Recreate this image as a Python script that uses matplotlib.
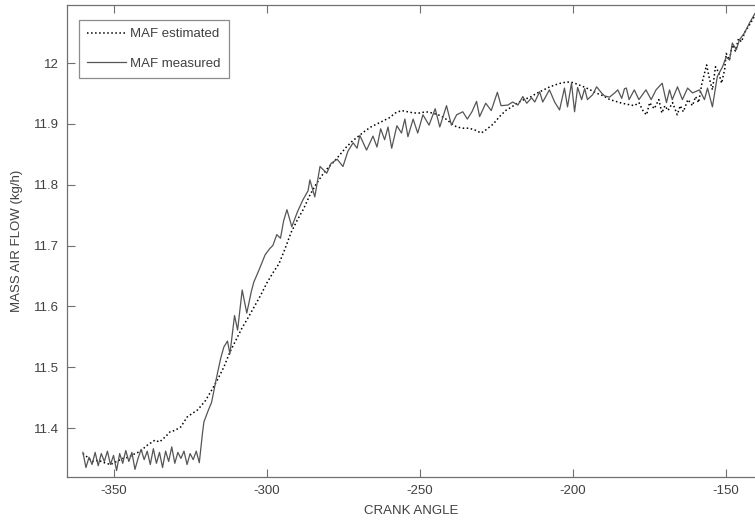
import matplotlib
matplotlib.use("Agg")
import matplotlib.pyplot as plt

plt.rcParams['font.family'] = ['Liberation Sans', 'DejaVu Sans']
plt.rcParams['axes.unicode_minus'] = False

# MAF measured (crank angle, kg/h)
meas_angle = [
    -360, -359, -358, -357, -356, -355, -354, -353, -352, -351,
    -350, -349, -348, -347, -346, -345, -344, -343, -342, -341,
    -340, -339, -338, -337, -336, -335, -334, -333, -332, -331,
    -330, -329, -328, -327, -326, -325, -324, -323, -322, -321,
    -320.5, -319, -318, -316.5, -315, -314, -312.8, -312, -310.5, -309.5,
    -308, -306.5, -305, -304.2, -302.5, -300.5, -299, -298, -296.7, -295.5,
    -294.5, -293.4, -291.8, -290, -288.2, -286.5, -285.9, -284.3, -282.6, -280.4,
    -279, -277, -275.1, -273.5, -271.8, -270.5, -269.6, -267.4, -265.3, -264,
    -262.8, -261.5, -260.4, -259.2, -257.5, -256, -254.9, -253.9, -252.2, -250.7,
    -249, -247, -245, -243.5, -241.3, -239.7, -238, -236, -234.5, -233,
    -231.5, -230.5, -228.5, -226.7, -224.7, -223.5, -221.3, -219.7, -218, -216.4,
    -215.1, -213.5, -212.5, -210.9, -209.9, -207.7, -206, -204.4, -202.8, -201.8,
    -200.5, -199.5, -198.5, -197.2, -196.2, -195.3, -193.6, -192.3, -190.7, -189.7,
    -188.1, -186.4, -185.4, -184.1, -183.2, -182.6, -181.7, -180, -178.5, -176.2,
    -174.5, -172.9, -170.9, -169.5, -168.5, -167.6, -165.9, -164.3, -162.6, -161,
    -158.7, -157.1, -156.1, -154.5, -152.9, -151.2, -150, -148.9, -148, -146.7,
    -145.7, -144, -142.4, -140.8, -139.5,
]
meas_flow = [
    11.360, 11.335, 11.352, 11.340, 11.360, 11.338, 11.358, 11.345, 11.362, 11.340,
    11.355, 11.330, 11.358, 11.342, 11.363, 11.345, 11.360, 11.332, 11.350, 11.365,
    11.348, 11.362, 11.340, 11.366, 11.342, 11.360, 11.335, 11.362, 11.345, 11.369,
    11.342, 11.360, 11.350, 11.362, 11.340, 11.358, 11.348, 11.362, 11.343, 11.390,
    11.410, 11.430, 11.442, 11.480, 11.515, 11.533, 11.543, 11.522, 11.585, 11.561,
    11.627, 11.589, 11.625, 11.640, 11.660, 11.685, 11.695, 11.700, 11.718, 11.712,
    11.740, 11.759, 11.731, 11.755, 11.775, 11.790, 11.808, 11.780, 11.830, 11.819,
    11.835, 11.842, 11.830, 11.855, 11.869, 11.860, 11.881, 11.857, 11.880, 11.862,
    11.892, 11.874, 11.895, 11.860, 11.897, 11.885, 11.908, 11.879, 11.908, 11.885,
    11.915, 11.898, 11.925, 11.895, 11.930, 11.898, 11.915, 11.920, 11.908, 11.920,
    11.937, 11.912, 11.934, 11.922, 11.952, 11.930, 11.931, 11.936, 11.931, 11.945,
    11.934, 11.943, 11.936, 11.953, 11.936, 11.956, 11.936, 11.923, 11.959, 11.928,
    11.967, 11.920, 11.960, 11.940, 11.958, 11.940, 11.948, 11.961, 11.951, 11.946,
    11.944, 11.951, 11.956, 11.942, 11.958, 11.959, 11.940, 11.956, 11.940, 11.956,
    11.940, 11.956, 11.967, 11.935, 11.956, 11.940, 11.961, 11.940, 11.959, 11.951,
    11.956, 11.940, 11.959, 11.928, 11.978, 11.994, 12.010, 12.005, 12.033, 12.022,
    12.038, 12.050, 12.066, 12.080, 12.090,
]

# MAF estimated (crank angle, kg/h)
est_angle = [
    -360, -358, -357, -355, -353, -351, -349, -347, -345, -343,
    -341, -339.5, -338, -336.5, -335, -333, -331.5, -330, -328, -326,
    -324, -322.5, -320, -318, -316, -314, -312, -310, -308, -306,
    -304, -302, -300, -298, -296, -294, -292, -290, -288, -286,
    -284, -282, -280, -278, -276, -274, -272, -270, -268, -266,
    -264, -262, -260, -258, -256, -254, -252, -250, -248, -246,
    -244, -242, -240, -238, -236, -234, -232, -230, -228.5, -226,
    -224, -222, -220, -218, -216, -214, -212, -210, -208, -206,
    -204, -202, -200, -198, -196, -194, -192, -190, -188, -186,
    -184, -182, -180, -178.5, -177, -176, -175, -173.5, -172, -171,
    -170, -169, -167.5, -166, -165, -164, -162.5, -161, -160, -159,
    -158, -157, -156.4, -155.5, -154.5, -153.5, -152.5, -151.5, -150.5, -150,
    -149, -148, -147, -146, -145, -144, -142.5, -141, -139.5,
]
est_flow = [
    11.358, 11.350, 11.345, 11.347, 11.343, 11.340, 11.345, 11.350, 11.352, 11.358,
    11.362, 11.370, 11.375, 11.380, 11.377, 11.386, 11.394, 11.396, 11.402, 11.418,
    11.425, 11.430, 11.445, 11.462, 11.480, 11.500, 11.525, 11.545, 11.565, 11.582,
    11.600, 11.618, 11.638, 11.655, 11.670, 11.695, 11.722, 11.742, 11.760, 11.782,
    11.800, 11.815, 11.828, 11.838, 11.850, 11.862, 11.872, 11.880, 11.888, 11.895,
    11.900, 11.905, 11.910, 11.918, 11.922, 11.920, 11.918, 11.918, 11.920, 11.918,
    11.915, 11.910, 11.902, 11.895, 11.893, 11.893, 11.890, 11.885, 11.890, 11.900,
    11.912, 11.922, 11.928, 11.935, 11.940, 11.944, 11.950, 11.955, 11.960, 11.964,
    11.967, 11.969, 11.968, 11.964, 11.960, 11.955, 11.950, 11.946, 11.940, 11.937,
    11.934, 11.932, 11.930, 11.935, 11.920, 11.915, 11.935, 11.925, 11.940, 11.918,
    11.930, 11.922, 11.935, 11.915, 11.930, 11.920, 11.940, 11.930, 11.945, 11.935,
    11.965, 11.985, 11.997, 11.975, 11.956, 11.994, 11.985, 11.967, 11.990, 12.016,
    12.005, 12.030, 12.020, 12.040, 12.035, 12.050, 12.062, 12.075, 12.090,
]

x_ticks = [-350, -300, -250, -200, -150]
y_ticks = [11.4, 11.5, 11.6, 11.7, 11.8, 11.9, 12.0]
y_tick_labels = ['11.4', '11.5', '11.6', '11.7', '11.8', '11.9', '12']

text_color = '#404040'
edge_color = '#707070'

fig = plt.figure(figsize=(7.55, 5.24), dpi=100)
ax = fig.add_axes([0.0887, 0.0903, 0.9113, 0.9])

ax.plot(est_angle, est_flow, linestyle=':', color='black', lw=1.1, label='MAF estimated')
ax.plot(meas_angle, meas_flow, linestyle='-', color='#555555', lw=0.9, label='MAF measured')

ax.set_xlim(-365.2, -140.6)
ax.set_ylim(11.320, 12.0954)
ax.set_xticks(x_ticks)
ax.set_yticks(y_ticks)
ax.set_yticklabels(y_tick_labels)

ax.tick_params(direction='in', length=6, width=0.8, colors=edge_color,
               labelcolor=text_color, labelsize=9.5, top=True, right=False, pad=6)
for name, sp in ax.spines.items():
    sp.set_color(edge_color)
    sp.set_linewidth(0.9)
ax.spines['right'].set_visible(False)

ax.set_xlabel('CRANK ANGLE', fontsize=9.5, color=text_color, labelpad=6)
ax.set_ylabel('MASS AIR FLOW (kg/h)', fontsize=9.5, color=text_color, labelpad=8)

leg = ax.legend(loc='upper left', bbox_to_anchor=(12 / 688, 1 - 15 / 471.4),
                borderaxespad=0, fontsize=9.5, frameon=True, fancybox=False,
                edgecolor=edge_color, handlelength=3.0, handletextpad=0.3,
                borderpad=0.6, labelspacing=1.3)
leg.get_frame().set_linewidth(0.9)
for t in leg.get_texts():
    t.set_color(text_color)

fig.savefig('out.png', dpi=100)
